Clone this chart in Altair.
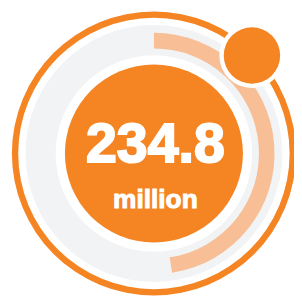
import math
import altair as alt
import pandas as pd

# ---- data ----
value_label = ["234.8"]
unit_label = ["million"]
progress_share = [0.476]      # share of the track that is filled
marker_angle_deg = [45]       # position of the marker dot on the outer ring

ORANGE = "#F58423"
LIGHT = "#F8BE96"
GRAY = "#F2F3F5"
FONT = "Liberation Sans, Arial, sans-serif"

W, H = 294, 291
CX, CY = 150, 145.5
MARK_R = 142.5

full = pd.DataFrame({"start": [0.0], "end": [1.0]})
prog = pd.DataFrame({"start": [0.0], "end": progress_share})
dot = pd.DataFrame({"ang": marker_angle_deg})
txt = pd.DataFrame({"v": value_label, "u": unit_label})

theta_scale = alt.Scale(domain=[0, 1], range=[0, 2 * math.pi])


def ring(df, inner, outer, color):
    return alt.Chart(df).mark_arc(innerRadius=inner, outerRadius=outer, color=color).encode(
        theta=alt.Theta("start:Q", scale=theta_scale),
        theta2="end:Q",
        x=alt.value(CX),
        y=alt.value(CY),
    )


outer_ring = ring(full, 139.5, 146, ORANGE)
track = ring(full, 101, 132, GRAY)
progress = ring(prog, 108, 124, LIGHT)
center = ring(full, 0, 91.5, ORANGE)

xs = alt.Scale(domain=[-CX, W - CX], range=[0, W])
ys = alt.Scale(domain=[-CY, H - CY], range=[0, H])


def dot_layer(r, color):
    return alt.Chart(dot).transform_calculate(
        dx=f"{MARK_R}*sin(datum.ang*PI/180)",
        dy=f"-{MARK_R}*cos(datum.ang*PI/180)",
    ).mark_arc(innerRadius=0, outerRadius=r, color=color).encode(
        x=alt.X("dx:Q", scale=xs, axis=None),
        y=alt.Y("dy:Q", scale=ys, axis=None),
        theta=alt.value(2 * math.pi),
    )


dot_halo = dot_layer(33.5, "white")
dot_core = dot_layer(29, ORANGE)

big = alt.Chart(txt).mark_text(
    font=FONT, fontWeight="bold", fontSize=57,
    color="white", stroke="white", strokeWidth=2, align="center", baseline="alphabetic",
).encode(text="v:N", x=alt.value(151.5), y=alt.value(154))

small = alt.Chart(txt).mark_text(
    font=FONT, fontWeight="bold", fontSize=27,
    color="white", stroke="white", strokeWidth=1, align="center", baseline="alphabetic",
).encode(text="u:N", x=alt.value(151.5), y=alt.value(202))

chart = alt.layer(outer_ring, track, progress, center, dot_halo, dot_core, big, small).properties(
    width=W, height=H, padding=0, autosize=alt.AutoSizeParams(type="none"),
).configure_view(stroke=None)

chart.save("out.html", embed_options={"renderer": "svg", "actions": False})
